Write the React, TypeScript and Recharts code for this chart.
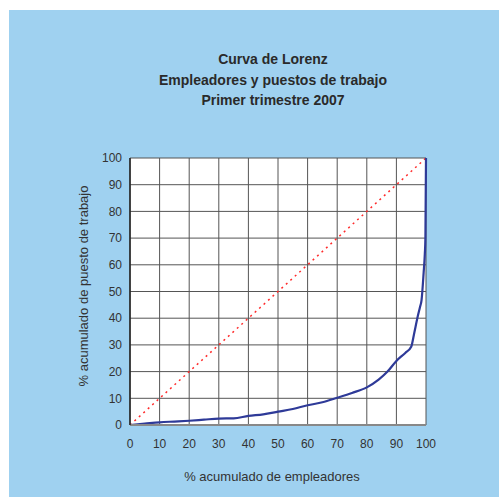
import { LineChart, Line, XAxis, YAxis, CartesianGrid } from "recharts";

// % acumulado de empleadores (x) vs % acumulado de puesto de trabajo (y)
const empleadores = [
  0, 5, 10, 15, 20, 25, 30, 35, 40, 45, 50, 55, 60, 65, 70, 75, 80, 84, 87, 90,
  93, 95, 96, 97.2, 98, 98.5, 99.2, 99.6, 99.8, 100,
];
const puestos = [
  0, 0.5, 1.0, 1.3, 1.6, 2.0, 2.4, 2.5, 3.4, 4.0, 5.0, 6.0, 7.4, 8.5, 10.2, 12,
  14.1, 17, 20, 24, 27, 29.3, 34.3, 40.6, 44.3, 46.8, 57, 64, 70, 100,
];
const equidad = [0, 100];
const ticks = [0, 10, 20, 30, 40, 50, 60, 70, 80, 90, 100];
const titulo = ["Curva de Lorenz", "Empleadores y puestos de trabajo", "Primer trimestre 2007"];

const curva = empleadores.map((x, i) => ({ x, y: puestos[i] }));
const diagonal = equidad.map((v) => ({ x: v, y: v }));

const font = "'Liberation Sans', Arial, sans-serif";

export default function App() {
  return (
    <div
      style={{
        position: "absolute",
        left: 9,
        top: 10,
        width: 490,
        height: 487,
        background: "#9fd1f0",
        fontFamily: font,
      }}
    >
      <div
        style={{
          position: "absolute",
          left: 0,
          width: 528,
          top: 39,
          textAlign: "center",
          fontWeight: "bold",
          fontSize: 14,
          lineHeight: "20.5px",
          color: "#2a2a2a",
        }}
      >
        {titulo.map((t) => (
          <div key={t}>{t}</div>
        ))}
      </div>
      <LineChart
        width={490}
        height={487}
        margin={{ top: 148, right: 73, bottom: 42, left: 91 }}
      >
        <CartesianGrid stroke="#555" strokeWidth={1} fill="#fff" fillOpacity={1} />
        <XAxis
          type="number"
          dataKey="x"
          domain={[0, 100]}
          ticks={ticks}
          height={30}
          tickLine={false}
          tickMargin={8}
          axisLine={{ stroke: "#888", strokeWidth: 2 }}
          tick={{ fill: "#333", fontSize: 12, fontFamily: font }}
        />
        <YAxis
          type="number"
          dataKey="y"
          domain={[0, 100]}
          ticks={ticks}
          width={30}
          tickLine={false}
          axisLine={{ stroke: "#222", strokeWidth: 1.5 }}
          tick={{ fill: "#333", fontSize: 12, fontFamily: font }}
        />
        <Line
          data={diagonal}
          dataKey="y"
          type="linear"
          stroke="#ff2a2a"
          strokeWidth={1.5}
          strokeDasharray="2 4"
          dot={false}
          isAnimationActive={false}
        />
        <Line
          data={curva}
          dataKey="y"
          type="monotone"
          stroke="#2e3a98"
          strokeWidth={2.2}
          dot={false}
          isAnimationActive={false}
        />
      </LineChart>
      <div
        style={{
          position: "absolute",
          left: 0,
          width: 526,
          top: 459,
          textAlign: "center",
          fontSize: 13,
          color: "#333",
        }}
      >
        % acumulado de empleadores
      </div>
      <div
        style={{
          position: "absolute",
          left: 74,
          top: 276,
          width: 0,
          height: 0,
        }}
      >
        <div
          style={{
            position: "absolute",
            left: 0,
            top: 0,
            transform: "translate(-50%, -50%) rotate(-90deg)",
            whiteSpace: "nowrap",
            fontSize: 13,
            color: "#333",
          }}
        >
          % acumulado de puesto de trabajo
        </div>
      </div>
    </div>
  );
}
